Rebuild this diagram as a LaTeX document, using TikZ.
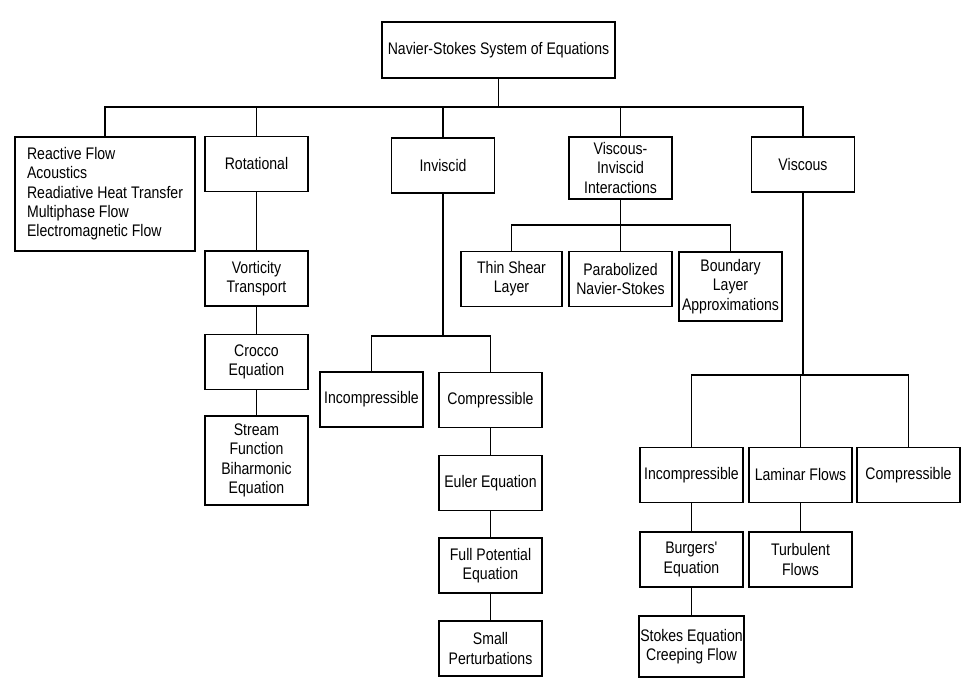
\documentclass[tikz,border=0pt]{standalone}
\usepackage{fontspec}
\setmainfont{Liberation Sans}[FakeStretch=0.84]
\begin{document}
\begin{tikzpicture}[x=0.03cm,y=-0.03cm,line width=1.1pt,
  box/.style={draw,align=center,inner sep=1pt,minimum width=3.09cm,minimum height=1.65cm,
    font=\fontsize{14.3}{16.5}\selectfont}]
\useasboundingbox (0,0) rectangle (967,679);

\node[box,minimum width=6.99cm,minimum height=1.68cm] (ns) at (498.5,50) {Navier-Stokes System of Equations};

\node[box,align=left,minimum width=5.4cm,minimum height=3.42cm] (list) at (105,194)
  {Reactive Flow\\Acoustics\\Readiative Heat Transfer\\Multiphase Flow\\Electromagnetic Flow};
\node[box] (rot) at (256.5,164) {Rotational};
\node[box] (inv) at (443,165.5) {Inviscid};
\node[box,minimum height=1.86cm] (vi) at (620.5,168) {Viscous-\\Inviscid\\Interactions};
\node[box] (visc) at (803,164.5) {Viscous};

\node[box] (vort) at (256.5,278.5) {Vorticity\\Transport};
\node[box] (croc) at (256.5,362) {Crocco\\Equation};
\node[box,minimum height=2.67cm] (strm) at (256.5,460.5) {Stream\\Function\\Biharmonic\\Equation};

\node[box,minimum width=3.03cm] (thin) at (511.5,279) {Thin Shear\\Layer};
\node[box] (para) at (620.5,279) {Parabolized\\Navier-Stokes};
\node[box,minimum height=2.07cm] (bl) at (730.5,286.5) {Boundary\\Layer\\Approximations};

\node[box] (incA) at (371.5,399.5) {Incompressible};
\node[box] (comA) at (490.5,400) {Compressible};
\node[box] (euler) at (490.5,483) {Euler Equation};
\node[box] (fullp) at (490.5,565.5) {Full Potential\\Equation};
\node[box] (small) at (490.5,648.5) {Small\\Perturbations};

\node[box] (incB) at (691.5,475) {Incompressible};
\node[box] (lam) at (800.5,475) {Laminar Flows};
\node[box] (comB) at (908.5,475) {Compressible};
\node[box] (burg) at (691.5,559.5) {Burgers\textquotesingle\\Equation};
\node[box] (turb) at (800.5,559.5) {Turbulent\\Flows};
\node[box,minimum height=1.83cm] (stokes) at (691.5,646.5) {Stokes Equation\\Creeping Flow};

% branch points
\coordinate (b0) at (498.5,107);
\coordinate (b1) at (620.5,225);
\coordinate (b2) at (443,336);
\coordinate (b3) at (803,375);

\draw (ns) -- (b0);
\draw (list.north) |- (b0) -| (visc.north);
\foreach \n in {rot,inv,vi} \draw (\n.north) -- (\n.north |- b0);

\draw (rot) -- (vort) -- (croc) -- (strm);

\draw (vi) -- (b1);
\draw (thin.north) |- (b1) -| (bl.north);
\draw (para.north) -- (para.north |- b1);

\draw (inv) -- (b2);
\draw (incA.north) |- (b2) -| (comA.north);
\draw (comA) -- (euler) -- (fullp) -- (small);

\draw (visc) -- (b3);
\draw (incB.north) |- (b3) -| (comB.north);
\draw (lam.north) -- (lam.north |- b3);
\draw (incB) -- (burg) -- (stokes);
\draw (lam) -- (turb);
\end{tikzpicture}
\end{document}
